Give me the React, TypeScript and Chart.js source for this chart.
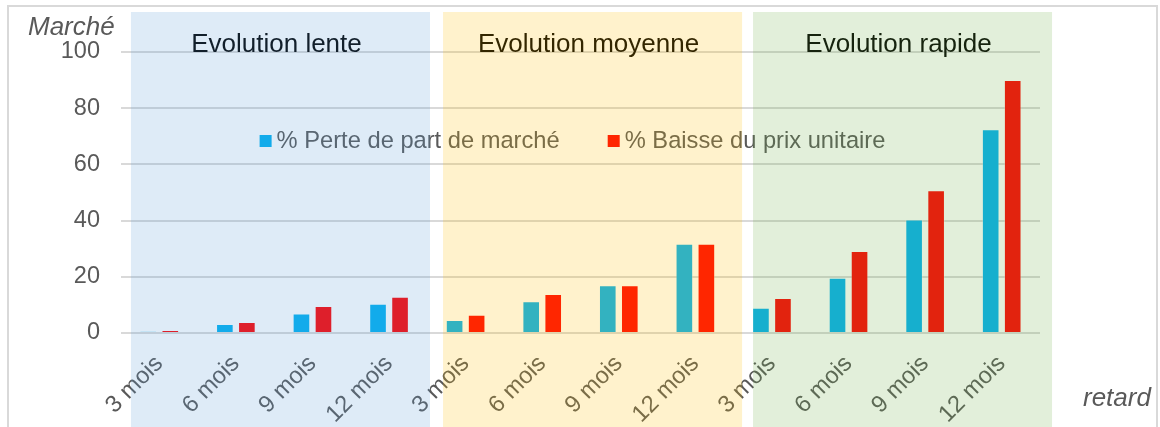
import React, { useEffect, useRef } from 'react';
import { Chart, registerables } from 'chart.js';

Chart.register(...registerables);

// ---- data ----
const categories = [
  '3 mois', '6 mois', '9 mois', '12 mois',
  '3 mois', '6 mois', '9 mois', '12 mois',
  '3 mois', '6 mois', '9 mois', '12 mois',
];
const pertePartMarche = [0.5, 3.2, 6.9, 10.4, 4.6, 11.3, 17.0, 31.8, 9.0, 19.7, 40.4, 72.5];
const baissePrixUnitaire = [1.0, 3.9, 9.6, 12.9, 6.5, 13.9, 17.0, 31.8, 12.5, 29.2, 50.8, 90.0];
const seriesNames = ['% Perte de part de marché', '% Baisse du prix unitaire'];
const yTickValues = [0, 20, 40, 60, 80, 100];
const panelTitles = ['Evolution lente', 'Evolution moyenne', 'Evolution rapide'];
const yAxisTitle = 'Marché';
const xAxisTitle = 'retard';

// ---- layout / style ----
const panelSpans = [
  [-0.37, 3.535],
  [3.705, 7.61],
  [7.753, 11.657],
];
const panelTints = ['rgba(91,155,213,0.2)', 'rgba(255,192,0,0.2)', 'rgba(112,173,71,0.2)'];
const seriesColors = ['#00B0F0', '#FF0000'];
const FONT = '"Liberation Sans", Arial, Helvetica, sans-serif';
const W = 1160;
const H = 427;

const decorPlugin = {
  id: 'decor',
  beforeDraw(chart: any) {
    const ctx = chart.ctx;
    ctx.save();
    ctx.fillStyle = '#ffffff';
    ctx.fillRect(0, 0, chart.width, chart.height);
    ctx.restore();
  },
  afterDraw(chart: any) {
    const { ctx, chartArea } = chart;
    const x = chart.scales.x;
    ctx.save();

    // legend (inside plot)
    ctx.font = `23.7px ${FONT}`;
    ctx.textBaseline = 'middle';
    ctx.textAlign = 'left';
    const sq = 12;
    const gapSq = 5;
    const gapItems = 48;
    const w1 = ctx.measureText(seriesNames[0]).width;
    const w2 = ctx.measureText(seriesNames[1]).width;
    const total = sq + gapSq + w1 + gapItems + sq + gapSq + w2;
    let lx = (chartArea.left + chartArea.right) / 2 - 8 - total / 2;
    const ly = 141;
    ctx.fillStyle = seriesColors[0];
    ctx.fillRect(lx, ly - sq / 2, sq, sq);
    ctx.fillStyle = '#595959';
    ctx.fillText(seriesNames[0], lx + sq + gapSq, ly);
    lx += sq + gapSq + w1 + gapItems;
    ctx.fillStyle = seriesColors[1];
    ctx.fillRect(lx, ly - sq / 2, sq, sq);
    ctx.fillStyle = '#595959';
    ctx.fillText(seriesNames[1], lx + sq + gapSq, ly);

    // panel titles
    ctx.font = `26px ${FONT}`;
    ctx.textAlign = 'center';
    ctx.textBaseline = 'alphabetic';
    ctx.fillStyle = '#000000';
    panelSpans.forEach((s, i) => {
      const l = x.getPixelForValue(s[0]);
      const r = x.getPixelForValue(s[1]);
      ctx.fillText(panelTitles[i], (l + r) / 2 - 4, 52);
    });

    // translucent panels
    panelSpans.forEach((s, i) => {
      const l = x.getPixelForValue(s[0]);
      const r = x.getPixelForValue(s[1]);
      ctx.fillStyle = panelTints[i];
      ctx.fillRect(l, 12, r - l, chart.height - 12);
    });

    // axis titles
    ctx.font = `italic 26px ${FONT}`;
    ctx.fillStyle = '#595959';
    ctx.textAlign = 'left';
    ctx.textBaseline = 'alphabetic';
    ctx.fillText(yAxisTitle, 28, 35);
    ctx.fillText(xAxisTitle, 1083, 406);

    // outer border
    ctx.strokeStyle = '#D9D9D9';
    ctx.lineWidth = 2;
    ctx.strokeRect(8, 6, 1149, 440);
    ctx.restore();
  },
};

export default function App() {
  const ref = useRef<HTMLCanvasElement | null>(null);

  useEffect(() => {
    if (!ref.current) return;
    const chart = new Chart(ref.current, {
      type: 'bar',
      data: {
        labels: categories,
        datasets: [
          {
            label: seriesNames[0],
            data: pertePartMarche,
            backgroundColor: seriesColors[0],
            borderColor: 'rgba(255,255,255,0.3)',
            borderWidth: 1,
            categoryPercentage: 0.575,
            barPercentage: 0.8,
          },
          {
            label: seriesNames[1],
            data: baissePrixUnitaire,
            backgroundColor: seriesColors[1],
            borderColor: 'rgba(255,255,255,0.3)',
            borderWidth: 1,
            categoryPercentage: 0.575,
            barPercentage: 0.8,
          },
        ],
      },
      options: {
        responsive: false,
        devicePixelRatio: 1,
        animation: false,
        layout: { padding: { left: 0, top: 52, right: 120, bottom: 0 } },
        plugins: {
          legend: { display: false },
          title: { display: false },
          tooltip: { enabled: false },
        },
        scales: {
          x: {
            grid: { display: false, drawTicks: false },
            border: { display: false },
            ticks: {
              autoSkip: false,
              minRotation: 45,
              maxRotation: 45,
              padding: 17,
              color: '#595959',
              font: { family: FONT, size: 23.7 },
            },
            afterFit: (scale: any) => {
              scale.height = 94;
            },
          },
          y: {
            min: 0,
            max: 100,
            afterBuildTicks: (scale: any) => {
              scale.ticks = yTickValues.map((v) => ({ value: v }));
            },
            grid: { color: '#D9D9D9', lineWidth: 2, drawTicks: false },
            border: { display: false },
            ticks: {
              padding: 21,
              color: '#595959',
              font: { family: FONT, size: 23.5 },
            },
            afterFit: (scale: any) => {
              scale.width = 121;
            },
          },
        },
      },
      plugins: [decorPlugin],
    });
    return () => chart.destroy();
  }, []);

  return (
    <div style={{ position: 'absolute', left: 0, top: 0, width: W, height: H }}>
      <canvas ref={ref} width={W} height={H} style={{ display: 'block' }} />
    </div>
  );
}
